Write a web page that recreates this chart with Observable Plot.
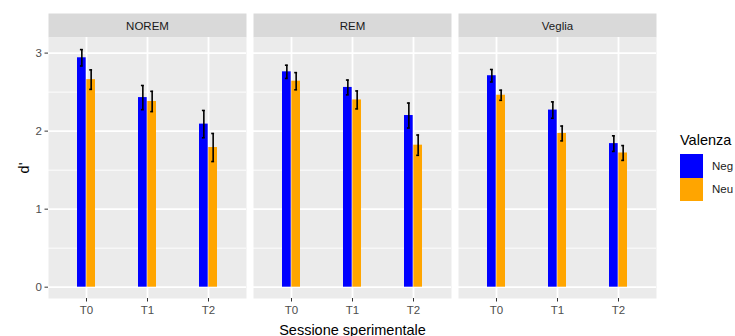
<!DOCTYPE html>
<html>
<head>
<meta charset="utf-8">
<script src="https://cdn.jsdelivr.net/npm/d3@7"></script>
<script src="https://cdn.jsdelivr.net/npm/@observablehq/plot@0.6"></script>
<style>
  html, body { margin: 0; padding: 0; background: #ffffff; }
  #wrap { position: relative; width: 735px; height: 336px; overflow: hidden;
          font-family: "Liberation Sans", Arial, sans-serif; }
  #legend { position: absolute; left: 680px; top: 132px; }
  #legend .title { font-size: 14.5px; color: #000; margin-bottom: 6px; }
  #legend .row { display: flex; align-items: center; height: 23.5px; }
  #legend .key { width: 23px; height: 23.5px; }
  #legend .lab { font-size: 11.5px; color: #1a1a1a; margin-left: 9px; }
</style>
</head>
<body>
<div id="wrap"><div id="chart"></div><div id="legend"></div></div>
<script>
// Recognition sensitivity (d') by sleep condition, session and valence
const conditions = ["NOREM", "REM", "Veglia"];
const sessions = ["T0", "T1", "T2"];
const valences = ["Neg", "Neu"];
const colors = ["#0000FF", "#FFA500"];

// means per condition (rows) and session (columns)
const negMean = [[2.94, 2.43, 2.09], [2.76, 2.56, 2.20], [2.71, 2.27, 1.84]];
const neuMean = [[2.66, 2.38, 1.79], [2.64, 2.40, 1.82], [2.46, 1.97, 1.72]];
// standard errors
const negSE = [[0.105, 0.155, 0.175], [0.085, 0.095, 0.16], [0.08, 0.105, 0.10]];
const neuSE = [[0.125, 0.13, 0.18], [0.11, 0.115, 0.13], [0.065, 0.095, 0.095]];

const yTicks = [0, 1, 2, 3];
const yMinor = [0.5, 1.5, 2.5];

const rows = [];
conditions.forEach((c, i) => sessions.forEach((s, j) => {
  rows.push({cond: c, session: s, val: "Neg", mean: negMean[i][j], se: negSE[i][j]});
  rows.push({cond: c, session: s, val: "Neu", mean: neuMean[i][j], se: neuSE[i][j]});
}));
rows.forEach(d => { d.lo = d.mean - d.se; d.hi = d.mean + d.se; });
const neg = rows.filter(d => d.val === "Neg");
const neu = rows.filter(d => d.val === "Neu");

// layout
const W = 735, H = 336;
const mL = 47, mR = 78, mT = 37, mB = 38;
const fxPadInner = 0.034;
const xPadInner = 0.7, xPadOuter = 0.45;
const panelW = (W - mL - mR) / (3 - fxPadInner) * (1 - fxPadInner);
const bw = panelW / (3 - xPadInner + 2 * xPadOuter) * (1 - xPadInner);
const half = bw / 2;
const capW = 3.5;
const panelH = H - mT - mB;

const capL = {insetLeft: half / 2 - capW / 2, insetRight: bw - half / 2 - capW / 2};
const capR = {insetLeft: half + half / 2 - capW / 2, insetRight: half / 2 - capW / 2};

const chart = Plot.plot({
  width: W,
  height: H,
  marginLeft: mL, marginRight: mR, marginTop: mT, marginBottom: mB,
  style: {fontFamily: "'Liberation Sans', Arial, sans-serif", background: "transparent"},
  fx: {domain: conditions, paddingInner: fxPadInner, paddingOuter: 0},
  x: {domain: sessions, paddingInner: xPadInner, paddingOuter: xPadOuter},
  y: {domain: [-0.145, 3.2]},
  marks: [
    // strip and panel backgrounds
    Plot.frame({fill: "#D9D9D9", insetTop: -24, insetBottom: panelH}),
    Plot.frame({fill: "#EBEBEB"}),
    Plot.gridY(yMinor, {stroke: "white", strokeOpacity: 1, strokeWidth: 0.9}),
    Plot.gridY(yTicks, {stroke: "white", strokeOpacity: 1, strokeWidth: 1.8}),
    Plot.gridX({stroke: "white", strokeOpacity: 1, strokeWidth: 1.8}),
    // bars, dodged within each session band
    Plot.barY(neg, {fx: "cond", x: "session", y: "mean", fill: colors[0], insetRight: half}),
    Plot.barY(neu, {fx: "cond", x: "session", y: "mean", fill: colors[1], insetLeft: half}),
    // error bars
    Plot.ruleX(neg, {fx: "cond", x: "session", y1: "lo", y2: "hi", dx: -half / 2, stroke: "black", strokeWidth: 1.6}),
    Plot.ruleX(neu, {fx: "cond", x: "session", y1: "lo", y2: "hi", dx: half / 2, stroke: "black", strokeWidth: 1.6}),
    Plot.tickY(neg, {fx: "cond", x: "session", y: "lo", stroke: "black", strokeWidth: 1.6, ...capL}),
    Plot.tickY(neg, {fx: "cond", x: "session", y: "hi", stroke: "black", strokeWidth: 1.6, ...capL}),
    Plot.tickY(neu, {fx: "cond", x: "session", y: "lo", stroke: "black", strokeWidth: 1.6, ...capR}),
    Plot.tickY(neu, {fx: "cond", x: "session", y: "hi", stroke: "black", strokeWidth: 1.6, ...capR}),
    // axes
    Plot.axisFx({anchor: "top", tickSize: 0, tickPadding: 8, label: null, fontSize: 11.5, fill: "#1a1a1a"}),
    Plot.axisFx({anchor: "bottom", tickSize: 0, tickFormat: () => "", label: "Sessione sperimentale",
                 labelAnchor: "center", labelOffset: 36, fontSize: 14.5, fill: "#000"}),
    Plot.axisX({tickSize: 3.5, tickPadding: 4, label: null, fontSize: 11.5, fill: "#4D4D4D", stroke: "#333"}),
    Plot.axisY(yTicks, {tickSize: 3.5, tickPadding: 3, fontSize: 11.5, fill: "#4D4D4D", stroke: "#333",
                        tickFormat: d3.format("d"), label: null}),
    Plot.axisY([], {tickSize: 0, fontSize: 14.5, fill: "#000", label: "d'",
                    labelAnchor: "center", labelArrow: "none", labelOffset: 30})
  ]
});
document.getElementById("chart").appendChild(chart);

// legend
const legend = d3.select("#legend");
legend.append("div").attr("class", "title").text("Valenza");
valences.forEach((v, i) => {
  const row = legend.append("div").attr("class", "row");
  row.append("div").attr("class", "key").style("background", colors[i]);
  row.append("div").attr("class", "lab").text(v);
});
</script>
</body>
</html>
